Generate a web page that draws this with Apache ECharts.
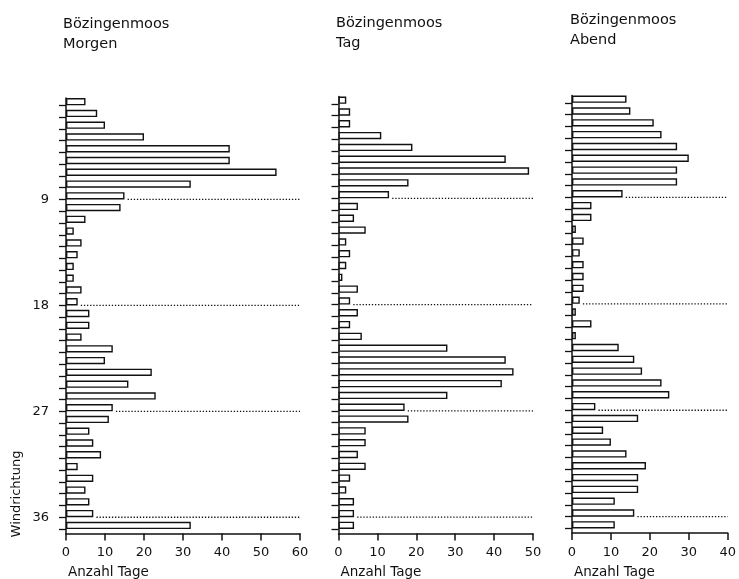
<!DOCTYPE html>
<html>
<head>
<meta charset="utf-8">
<script src="https://cdn.jsdelivr.net/npm/echarts@6/dist/echarts.min.js"></script>
<style>
html,body{margin:0;padding:0;background:#fff;}
#chart{width:739px;height:579px;}
</style>
</head>
<body>
<div id="chart"></div>
<script>
// Wind direction classes (top to bottom)
const directions = ['1','2','3','4','5','6','7','8','9','10','11','12','13','14','15','16','17','18','19',
  '20','21','22','23','24','25','26','27','28','29','30','31','32','33','34','35','36','37'];
const directionTicks = [1,2,3,4,5,6,7,8,9,10,11,12,13,14,15,16,17,18,19,20,21,22,23,24,25,26,27,28,29,30,31,32,33,34,35,36,37];
const yTickLabels = [9, 18, 27, 36];
const markedDirections = [9, 18, 27, 36];

// Anzahl Tage per direction
const morgen = [5,8,10,20,42,42,54,32,15,14,5,2,4,3,2,2,4,3,6,6,4,12,10,22,16,23,12,11,6,7,9,3,7,5,6,7,32];
const tag    = [2,3,3,11,19,43,49,18,13,5,4,7,2,3,2,1,5,3,5,3,6,28,43,45,42,28,17,18,7,7,5,7,3,2,4,4,4];
const abend  = [14,15,21,23,27,30,27,27,13,5,5,1,3,2,3,3,3,2,1,5,1,12,16,18,23,25,6,17,8,10,14,19,17,17,11,16,11];

const panelTitles = ['Bözingenmoos\nMorgen', 'Bözingenmoos\nTag', 'Bözingenmoos\nAbend'];
const xMaxima = [60, 50, 40];
const xAxisName = 'Anzahl Tage';
const yAxisName = 'Windrichtung';

const FONT = 'DejaVu Sans';
const INK = '#111';
const panelData = [morgen, tag, abend];

const grids = [
  {left: 66, top: 98, width: 234, height: 435.5},
  {left: 338.5, top: 96.5, width: 194.5, height: 437},
  {left: 572, top: 95.5, width: 157, height: 437.5}
];
const titleTops = [14, 13, 10];
const titleLefts = [63, 336, 570];

const option = {
  animation: false,
  backgroundColor: '#fff',
  title: [],
  grid: [],
  xAxis: [],
  yAxis: [],
  series: [],
  graphic: [{
    type: 'text', x: 17, y: 494, rotation: Math.PI / 2,
    style: {text: yAxisName, font: '13px "DejaVu Sans"', fill: INK, textAlign: 'center', textVerticalAlign: 'middle'}
  }]
};

panelData.forEach((vals, i) => {
  const g = grids[i];
  option.grid.push({left: g.left, top: g.top, width: g.width, height: g.height, containLabel: false});
  option.title.push({
    text: panelTitles[i], left: titleLefts[i], top: titleTops[i], padding: 0,
    textStyle: {fontFamily: FONT, fontSize: 14.5, fontWeight: 'normal', color: INK, lineHeight: 20}
  });
  option.title.push({
    text: xAxisName, left: g.left + 2, top: 564, padding: 0,
    textStyle: {fontFamily: FONT, fontSize: 13.5, fontWeight: 'normal', color: INK, lineHeight: 16}
  });
  option.xAxis.push({
    gridIndex: i, type: 'value', min: 0, max: xMaxima[i], interval: 10, position: 'bottom',
    axisLine: {show: true, onZero: false, lineStyle: {color: INK, width: 1.5}},
    axisTick: {show: true, inside: false, length: 7, lineStyle: {color: INK, width: 1.5}},
    axisLabel: {color: INK, fontFamily: FONT, fontSize: 13, margin: 13},
    splitLine: {show: false}
  });
  // category axis carrying the bars
  option.yAxis.push({
    gridIndex: i, type: 'category', data: directions, inverse: true, boundaryGap: true, position: 'left',
    axisLine: {show: true, onZero: false, lineStyle: {color: INK, width: 1.5}},
    axisTick: {show: false}, axisLabel: {show: false}, splitLine: {show: false}
  });
  // value axis carrying the direction ticks and labels
  option.yAxis.push({
    gridIndex: i, type: 'value', inverse: true, min: 0.38, max: 37.38, position: 'left',
    axisLine: {show: false, onZero: false},
    axisTick: {show: true, inside: false, length: 7, customValues: directionTicks, lineStyle: {color: INK, width: 1.3}},
    axisLabel: {show: i === 0, customValues: yTickLabels, color: INK, fontFamily: FONT, fontSize: 13, margin: 17},
    splitLine: {show: false}
  });
  option.series.push({
    type: 'bar', xAxisIndex: i, yAxisIndex: 2 * i, data: vals, barWidth: '62%', barGap: '0%',
    itemStyle: {color: '#fff', borderColor: INK, borderWidth: 1.4}, silent: true
  });
  option.series.push({
    type: 'bar', xAxisIndex: i, yAxisIndex: 2 * i, data: [], barWidth: '38%', barGap: '0%',
    itemStyle: {color: 'transparent', borderWidth: 0}, silent: true
  });
  markedDirections.forEach(d => {
    const v = vals[directions.indexOf(String(d))];
    option.series.push({
      type: 'line', xAxisIndex: i, yAxisIndex: 2 * i + 1, symbol: 'none', silent: true,
      data: [[v + 0.8, d], [xMaxima[i], d]],
      lineStyle: {color: INK, width: 1.3, type: [1.3, 1.8]}
    });
  });
});

const chart = echarts.init(document.getElementById('chart'), null, {renderer: 'canvas'});
chart.setOption(option);
</script>
</body>
</html>
